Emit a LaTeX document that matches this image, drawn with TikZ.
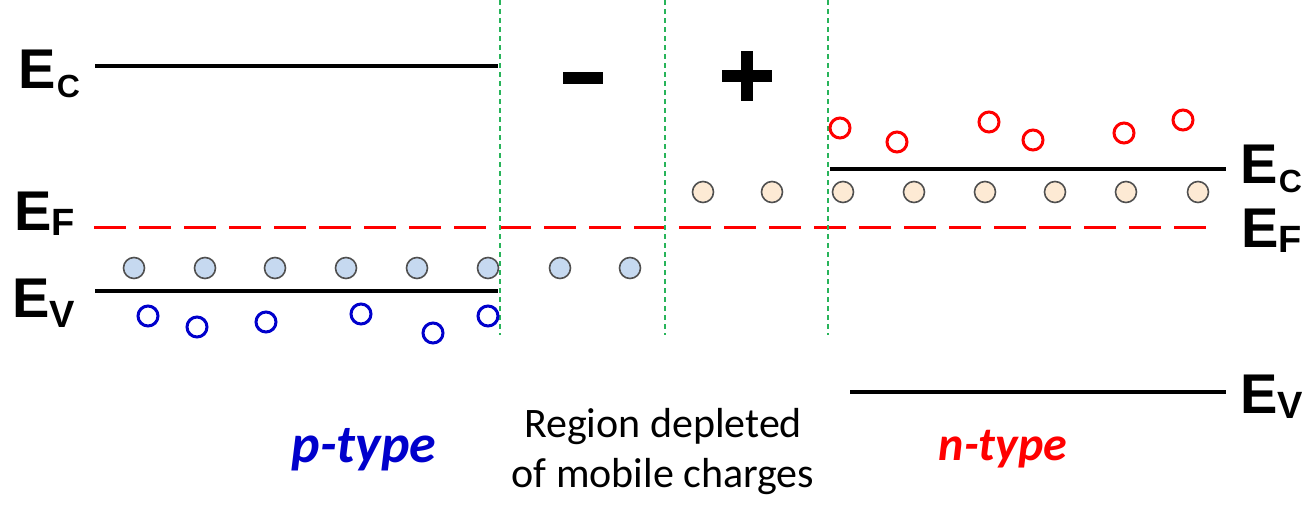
\documentclass[tikz,border=0pt]{standalone}
\usepackage{fontspec}
\setmainfont{Carlito}
\newfontfamily\labelfont{Liberation Sans}
\definecolor{vfill}{RGB}{198,217,240}
\definecolor{cfill}{RGB}{253,234,212}
\definecolor{rim}{RGB}{80,80,80}
\definecolor{holeblue}{RGB}{0,0,204}
\definecolor{jgreen}{RGB}{40,180,90}
\begin{document}
\begin{tikzpicture}[x=1pt,y=-1pt,
  band/.style={line width=4.5pt,black},
  fermi/.style={line width=3pt,red,dash pattern=on 32pt off 13pt},
  junction/.style={line width=1.6pt,jgreen,dash pattern=on 5pt off 4pt},
  vdot/.style={circle,draw=rim,line width=1.6pt,fill=vfill,minimum size=21pt,inner sep=0pt},
  cdot/.style={circle,draw=rim,line width=1.6pt,fill=cfill,minimum size=21pt,inner sep=0pt},
  hole/.style={circle,draw=holeblue,line width=3pt,minimum size=20pt,inner sep=0pt},
  elec/.style={circle,draw=red,line width=3pt,minimum size=20pt,inner sep=0pt},
  lvl/.style={font=\labelfont\bfseries\fontsize{56}{56}\selectfont,inner sep=0pt,anchor=base west},
  sub/.style={font=\labelfont\bfseries\fontsize{38}{38}\selectfont,inner sep=0pt,anchor=base west},
  subc/.style={font=\labelfont\bfseries\fontsize{32}{32}\selectfont,inner sep=0pt,anchor=base west},
  tag/.style={font=\bfseries\itshape,inner sep=0pt,anchor=base},
  note/.style={font=\fontsize{42}{50}\selectfont,inner sep=0pt,anchor=base}]
\useasboundingbox (0,0) rectangle (1306,506);

% band edges
\coordinate (ecL1) at (95,66);   \coordinate (ecL2) at (498,66);
\coordinate (evL1) at (95,291);  \coordinate (evL2) at (498,291);
\coordinate (ecR1) at (830,169); \coordinate (ecR2) at (1226,169);
\coordinate (evR1) at (850,392); \coordinate (evR2) at (1226,392);
\coordinate (ef1) at (94,227);   \coordinate (ef2) at (1215,227);
\draw[band] (ecL1) -- (ecL2);
\draw[band] (evL1) -- (evL2);
\draw[band] (ecR1) -- (ecR2);
\draw[band] (evR1) -- (evR2);
\draw[fermi] (ef1) -- (ef2);

% junction boundaries
\foreach \n/\x in {j1/500,j2/665,j3/828}{
  \coordinate (\n t) at (\x,0);
  \coordinate (\n b) at (\x,335);
  \draw[junction] (\n t) -- (\n b);
}

% acceptor-like states near the valence band
\foreach \x [count=\i] in {134,205,275,346,417,488,560,630}
  \node[vdot] (v\i) at (\x,268) {};
% donor-like states near the conduction band
\foreach \x [count=\i] in {703,772,843,914,985,1055,1126,1198}
  \node[cdot] (c\i) at (\x,192) {};
% holes
\foreach \x/\y [count=\i] in {148/316,197/327,266/322,361/314,433/333,488/316}
  \node[hole] (h\i) at (\x,\y) {};
% electrons
\foreach \x/\y [count=\i] in {840/128,897/142,989/122,1033/140,1124/133,1183/120}
  \node[elec] (e\i) at (\x,\y) {};

% level labels
\node[lvl] (EcL) at (18,88) {E};
\node[subc] (EcLs) at ([xshift=1pt,yshift=-9pt]EcL.base east) {C};
\node[lvl] (EfL) at (14,230) {E};
\node[sub] (EfLs) at ([xshift=0pt,yshift=-5pt]EfL.base east) {F};
\node[lvl] (EvL) at (12,317) {E};
\node[sub] (EvLs) at ([xshift=0pt,yshift=-10pt]EvL.base east) {V};
\node[lvl] (EcR) at (1240,183) {E};
\node[subc] (EcRs) at ([xshift=1pt,yshift=-9pt]EcR.base east) {C};
\node[lvl] (EfR) at (1241,247) {E};
\node[sub] (EfRs) at ([xshift=0pt,yshift=-5pt]EfR.base east) {F};
\node[lvl] (EvR) at (1240,413) {E};
\node[sub] (EvRs) at ([xshift=0pt,yshift=-5pt]EvR.base east) {V};

% space charge signs
\node[fill=black,minimum width=40pt,minimum height=12pt,inner sep=0pt] (minus) at (583,78) {};
\node[fill=black,minimum width=50pt,minimum height=12pt,inner sep=0pt] (plush) at (747,76) {};
\node[fill=black,minimum width=12pt,minimum height=50pt,inner sep=0pt] (plusv) at (747,76) {};

% region names
\node[tag,text=holeblue,font=\bfseries\itshape\fontsize{54}{54}\selectfont] (ptype) at (364,462) {p-type};
\node[tag,text=red,font=\bfseries\itshape\fontsize{48}{48}\selectfont] (ntype) at (1003,460) {n-type};
\node[note] (dep1) at (663,437) {Region depleted};
\node[note] (dep2) at (663,487) {of mobile charges};
\end{tikzpicture}
\end{document}
